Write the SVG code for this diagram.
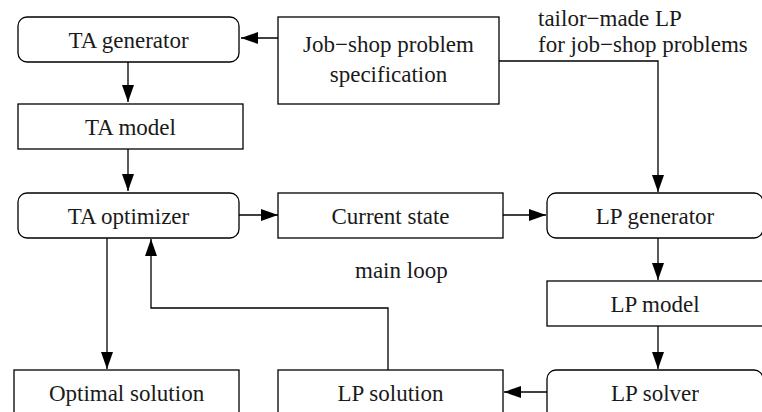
<svg xmlns="http://www.w3.org/2000/svg" width="762" height="412" viewBox="0 0 762 412">
<style>
.box{fill:#fff;stroke:#000;stroke-width:1.3}
text{font-family:'Liberation Serif','Times New Roman',serif;font-size:23px;fill:#1a1a1a}
.t{text-anchor:middle}
.c{fill:none;stroke:#000;stroke-width:1.3;marker-end:url(#ah)}
</style>
<defs>
<marker id="ah" markerUnits="userSpaceOnUse" markerWidth="18" markerHeight="12" refX="17" refY="6" orient="auto">
<path d="M0,0 L17,6 L0,12 z" fill="#000"/>
</marker>
</defs>
<rect width="762" height="412" fill="#fff"/>
<g id="connectors">
<line class="c" x1="278" y1="38" x2="241" y2="38"/>
<line class="c" x1="128" y1="62" x2="128" y2="102"/>
<line class="c" x1="128" y1="149" x2="128" y2="191"/>
<line class="c" x1="239" y1="215" x2="278" y2="215"/>
<line class="c" x1="503" y1="215" x2="546" y2="215"/>
<polyline class="c" points="499,61 658,61 658,192"/>
<line class="c" x1="658" y1="238" x2="658" y2="280"/>
<line class="c" x1="658" y1="326" x2="658" y2="369"/>
<line class="c" x1="547" y1="392" x2="504" y2="392"/>
<polyline class="c" points="388,370 388,308 151,308 151,239"/>
<line class="c" x1="107" y1="238" x2="107" y2="369"/>
</g>
<g id="ta-generator"><rect class="box" x="18" y="17" width="221" height="45" rx="9"/><text class="t" x="128.5" y="47.5">TA generator</text></g>
<g id="job-shop"><rect class="box" x="278" y="17" width="221" height="87"/><text class="t" x="388.5" y="52">Job−shop problem</text><text class="t" x="388.5" y="82">specification</text></g>
<g id="ta-model"><rect class="box" x="18" y="104" width="225" height="45"/><text class="t" x="130.5" y="134.5">TA model</text></g>
<g id="ta-optimizer"><rect class="box" x="18" y="193" width="221" height="45" rx="9"/><text class="t" x="128.5" y="223.5">TA optimizer</text></g>
<g id="current-state"><rect class="box" x="278" y="193" width="225" height="45"/><text class="t" x="390.5" y="223.5">Current state</text></g>
<g id="lp-generator"><rect class="box" x="547" y="193" width="216" height="45" rx="9"/><text class="t" x="655" y="223.5">LP generator</text></g>
<g id="lp-model"><rect class="box" x="547" y="281" width="216" height="45"/><text class="t" x="655" y="311.5">LP model</text></g>
<g id="lp-solver"><rect class="box" x="547" y="370" width="216" height="50" rx="9"/><text class="t" x="655" y="400.5">LP solver</text></g>
<g id="lp-solution"><rect class="box" x="278" y="370" width="225" height="50"/><text class="t" x="390.5" y="400.5">LP solution</text></g>
<g id="optimal-solution"><rect class="box" x="14" y="370" width="225" height="50"/><text class="t" x="126.5" y="400.5">Optimal solution</text></g>
<g id="labels">
<text x="538" y="26">tailor−made LP</text>
<text x="538" y="52">for job−shop problems</text>
<text x="355" y="278">main loop</text>
</g>
</svg>
